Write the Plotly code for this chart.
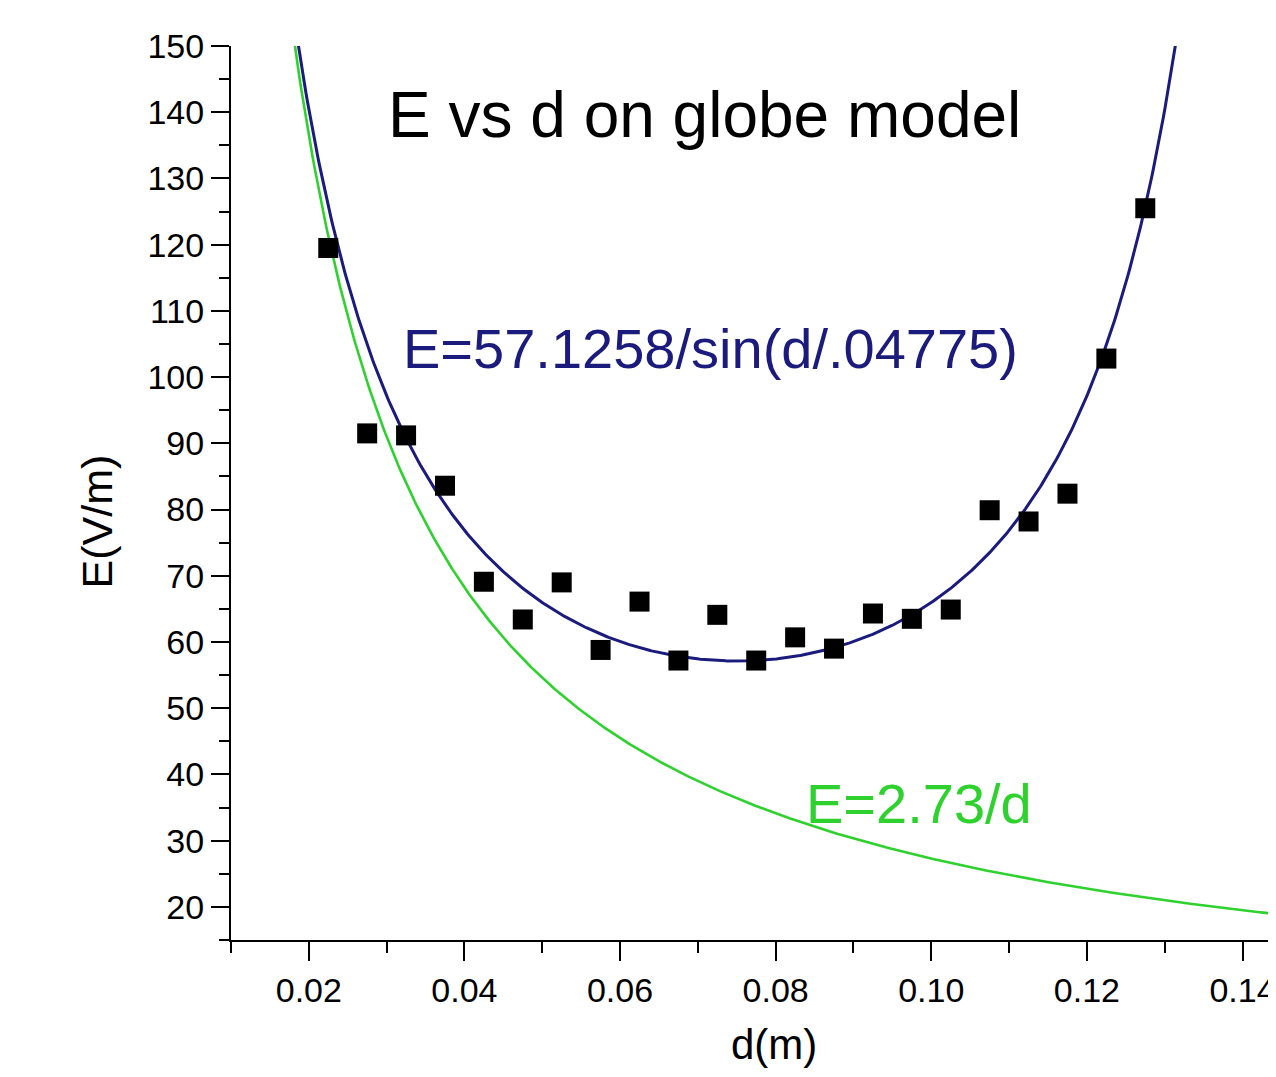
import numpy as np
import plotly.graph_objects as go

# measured data points
d_data = [0.0225, 0.0275, 0.0325, 0.0375, 0.0425, 0.0475, 0.0525, 0.0575, 0.0625, 0.0675, 0.0725,
          0.0775, 0.0825, 0.0875, 0.0925, 0.0975, 0.1025, 0.1075, 0.1125, 0.1175, 0.1225, 0.1275]
E_data = [119.5, 91.5, 91.2, 83.6, 69.1, 63.4, 69.0, 58.8, 66.1, 57.2, 64.1,
          57.2, 60.7, 59.0, 64.3, 63.5, 64.9, 79.9, 78.2, 82.4, 102.8, 125.5]

# model parameters printed on the chart
A_fit = 57.1258
k_fit = 0.04775
B_inv = 2.73

d_fit = np.linspace(0.0183, 0.1325, 600)
E_fit = A_fit / np.sin(d_fit / k_fit)
d_inv = np.linspace(0.0175, 0.1445, 600)
E_inv = B_inv / d_inv

FONT = "Liberation Sans, Arial, sans-serif"
NAVY = "#1b1b7d"
GREEN = "#2fd12f"

fig = go.Figure()
fig.add_trace(go.Scatter(x=d_inv, y=E_inv, mode="lines", line=dict(color=GREEN, width=2.6), showlegend=False))
fig.add_trace(go.Scatter(x=d_fit, y=E_fit, mode="lines", line=dict(color=NAVY, width=3), showlegend=False))
fig.add_trace(go.Scatter(x=d_data, y=E_data, mode="markers",
                         marker=dict(symbol="square", size=20, color="black", line=dict(width=0)),
                         showlegend=False))

fig.add_annotation(x=0.0709, y=139.6, text="E vs d on globe model", showarrow=False,
                   font=dict(family=FONT, size=64, color="black"))
fig.add_annotation(x=0.0716, y=104.3, text="E=57.1258/sin(d/.04775)", showarrow=False,
                   font=dict(family=FONT, size=56, color=NAVY))
fig.add_annotation(x=0.0984, y=35.6, text="E=2.73/d", showarrow=False,
                   font=dict(family=FONT, size=56, color=GREEN))
# axis titles
fig.add_annotation(xref="paper", yref="paper", x=0.5196, y=-0.117, text="d(m)", showarrow=False,
                   xanchor="center", yanchor="middle", font=dict(family=FONT, size=42, color="black"))
fig.add_annotation(xref="paper", yref="paper", x=-0.1278, y=0.4687, text="E(V/m)", showarrow=False,
                   textangle=-90, xanchor="center", yanchor="middle",
                   font=dict(family=FONT, size=43, color="black"))

fig.update_layout(
    width=1268, height=1061,
    margin=dict(l=223, r=0, t=38, b=129, autoexpand=False),
    paper_bgcolor="white", plot_bgcolor="white",
    font=dict(family=FONT, color="black"),
    xaxis=dict(range=[0.01, 0.1443], tickmode="linear", tick0=0, dtick=0.02, tickformat=".2f",
               automargin=False,
               ticks="outside", ticklen=19, tickwidth=2, tickcolor="black",
               showline=True, linewidth=2, linecolor="black", showgrid=False, zeroline=False,
               tickfont=dict(size=34),
               minor=dict(ticks="outside", ticklen=11, tickwidth=2, tickcolor="black", dtick=0.01, showgrid=False)),
    yaxis=dict(range=[15, 150], tickmode="linear", tick0=0, dtick=10,
               automargin=False,
               ticks="outside", ticklen=18, tickwidth=2, tickcolor="black",
               showline=True, linewidth=2, linecolor="black", showgrid=False, zeroline=False,
               tickfont=dict(size=34),
               minor=dict(ticks="outside", ticklen=10, tickwidth=2, tickcolor="black", dtick=5, showgrid=False)),
)

fig.write_html("out.html")
